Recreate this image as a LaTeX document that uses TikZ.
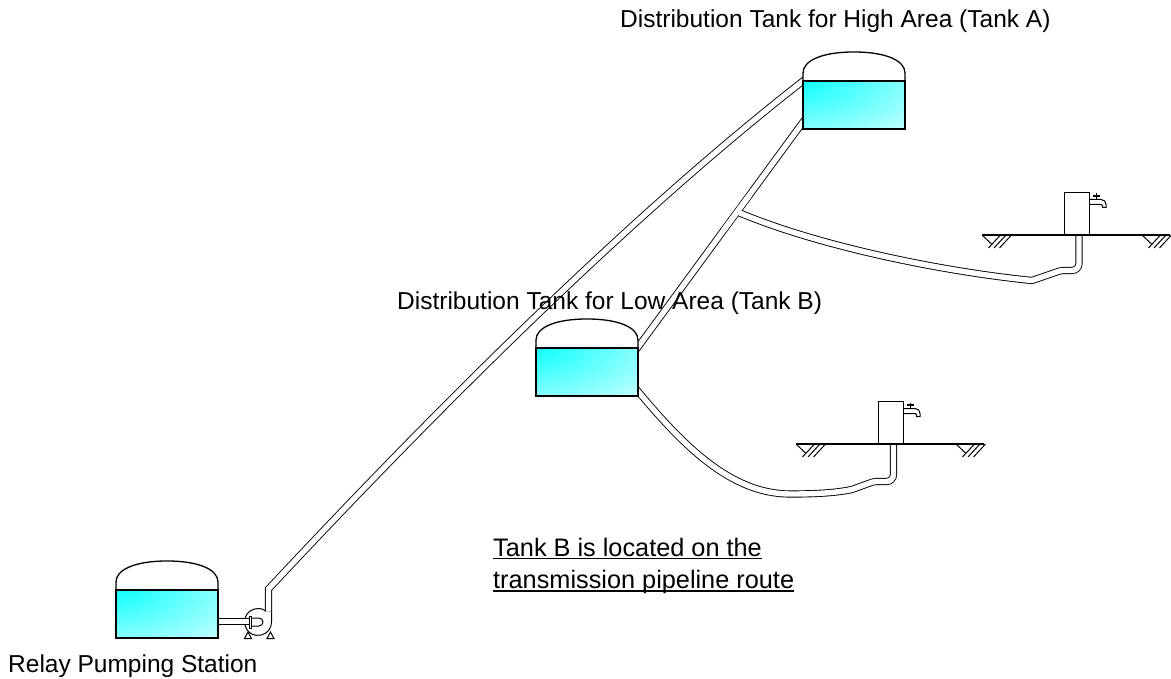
\documentclass[tikz,border=0pt]{standalone}
\usepackage{fontspec}
\setmainfont{Liberation Sans}
\usetikzlibrary{calc}

% water body: full cyan in the upper left corner, fading to white
\pgfdeclareradialshading{water}{\pgfpoint{-42bp}{42bp}}{%
  color(0bp)=(cyan); color(12bp)=(cyan); color(88bp)=(white); color(160bp)=(white)}

\tikzset{
  pipe/.style={draw=black, line width=0.9pt, double=white, double distance=5.4pt},
  wall/.style={draw=black, line width=1.3pt},
  thin/.style={draw=black, line width=1pt},
  caption/.style={inner sep=0pt, anchor=base west, font=\fontsize{24.5}{29}\selectfont},
  note/.style={inner sep=0pt, anchor=base west, font=\fontsize{25.3}{30}\selectfont},
  underlined/.style={draw=black, line width=1.3pt},
  % storage tank, origin at the upper left corner of the water body
  tank/.pic={
    \fill[white] (0,1) -- (0,-8) .. controls (0,-20) and (18,-29) .. (51,-29)
      .. controls (84,-29) and (102,-20) .. (102,-8) -- (102,1) -- cycle;
    \shade[shading=water] (0,0) rectangle (102,48);
    \draw[wall] (0,0) -- (0,-8) .. controls (0,-20) and (18,-29) .. (51,-29)
      .. controls (84,-29) and (102,-20) .. (102,-8) -- (102,0);
    \draw[wall] (0,0) rectangle (102,48);
  },
  % ground hatch mark
  hatch/.pic={
    \draw[thin] (0,0) -- (9.5,9) (6.5,13) -- (18.5,0) (12,13) -- (24,0) (17.5,13) -- (29.5,0);
  },
  % public tap on its stand, origin at the left end of the ground line
  faucet/.pic={
    \draw[wall] (0,0) -- (188,0);
    \pic at (0,0) {hatch};
    \pic at (160,0) {hatch};
    \draw[wall, fill=white] (82.5,-42.7) rectangle (107.8,0);
    \draw[thin] (107.8,-35.5) -- (119,-35.5) .. controls (122,-35.5) and (124,-33.5) .. (124,-30.5)
      -- (124,-27.5) -- (120.5,-27.5) -- (120.5,-29)
      .. controls (120.5,-30) and (119.8,-30.5) .. (118.5,-30.5) -- (107.8,-30.5);
    \draw[thin] (114.3,-35.5) -- (114.3,-41.5);
    \draw[line width=1.6pt] (111,-39) -- (117.6,-39);
  }
}

\begin{document}
\begin{tikzpicture}[x=1pt, y=-1pt]
\useasboundingbox (0,0) rectangle (1171,679);

% reference points
\coordinate (pumpc) at (258,622);
\coordinate (tankA) at (803,81);
\coordinate (tankB) at (536,348);
\coordinate (tankR) at (116,590);
\coordinate (tapA) at (982,235);
\coordinate (tapB) at (796,444);

% pump casing (volute)
\draw[thin] ($(pumpc)+(7.3,-11.4)$) arc[start angle=-57.4, end angle=-360, radius=13.5]
  -- ($(pumpc)+(13.6,-11)$);

% transmission main: pump discharge up to tank A
\draw[pipe] ($(pumpc)+(10.5,-10.5)$) -- ($(pumpc)+(10.5,-33)$)
  .. controls (477.8,365) and (656,195.7) .. (803,81) -- (810.9,74.9);
% suction pipe from the relay tank
\draw[pipe] ($(tankR)+(95,31.5)$) -- ($(pumpc)+(-8,-0.5)$);
% tank A down to tank B
\draw[pipe] (808.6,114.4) -- (631.4,356.1);
% branch from the A-B line to the upper tap
\draw[pipe] (737.5,212) .. controls (817.5,246) and (942,271.5) .. (1032,280.5)
  [rounded corners=2pt] -- (1061,270.5) [rounded corners=7pt] -- (1079,270.5) -- (1079,234);
% tank B to the lower tap
\draw[pipe] (632,384) -- (637.3,390.5) .. controls (682,444) and (730,494) .. (790,494)
  .. controls (815,494) and (835,493) .. (852,489.5)
  [rounded corners=2pt] -- (874,481.5) [rounded corners=7pt] -- (893.5,481.5) -- (893.5,443);
% reopen the A-B line across the branch junction
\draw[white, line width=5.4pt] (749.5,195) -- (723.8,230);

% tanks
\pic at (tankA) {tank};
\pic at (tankB) {tank};
\pic at (tankR) {tank};

% pump details: flange, impeller eye, feet
\draw[thin, fill=white] ($(pumpc)+(-8.5,-5.5)$) rectangle ($(pumpc)+(-6.5,6.5)$);
\draw[thin] ($(pumpc)+(-6.5,-4)$) -- ($(pumpc)+(1,-4)$) arc[start angle=-90, end angle=90, radius=4]
  -- ($(pumpc)+(-6.5,4)$);
\draw[thin] ($(pumpc)+(-13.5,16.5)$) -- ($(pumpc)+(-10,10)$) -- ($(pumpc)+(-6.5,16.5)$) -- cycle;
\draw[thin] ($(pumpc)+(9,16.5)$) -- ($(pumpc)+(12.5,10)$) -- ($(pumpc)+(16,16.5)$) -- cycle;

% taps
\pic at (tapA) {faucet};
\pic at (tapB) {faucet};

% captions
\node[caption] (capA) at (620,28) {Distribution Tank for High Area (Tank A)};
\node[caption] (capB) at (397,309) {Distribution Tank for Low Area (Tank B)};
\node[note] (note1) at (493,556) {Tank B is located on the};
\node[note] (note2) at (493,588.3) {transmission pipeline route};
\node[caption] (capR) at (8,672) {Relay Pumping Station};
\draw[underlined] ([yshift=-2.8pt]note1.base west) -- ([yshift=-2.8pt]note1.base east);
\draw[underlined] ([yshift=-2.8pt]note2.base west) -- ([yshift=-2.8pt]note2.base east);
\end{tikzpicture}
\end{document}
